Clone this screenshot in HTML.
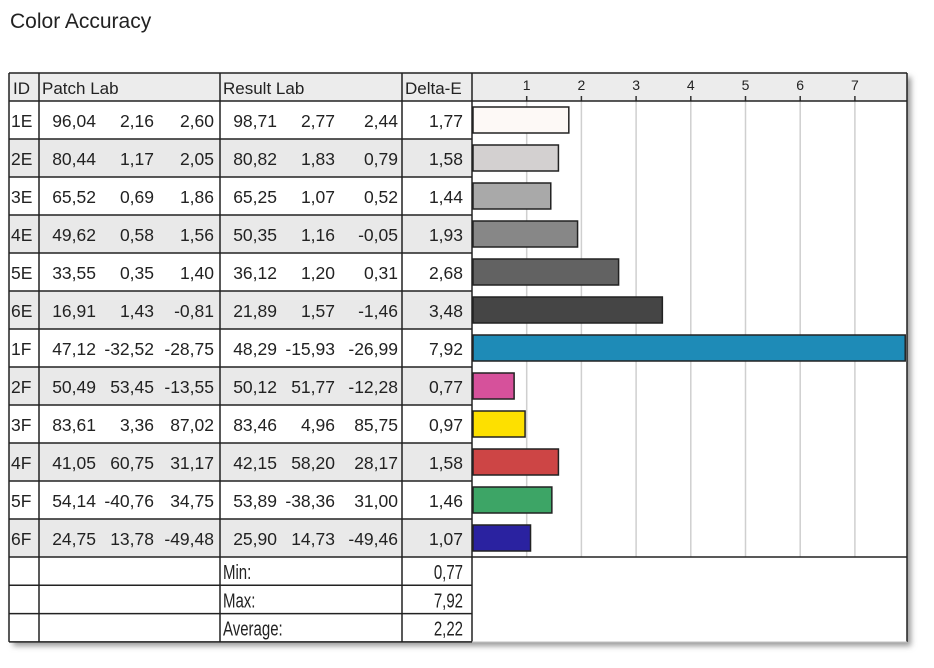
<!DOCTYPE html>
<html><head><meta charset="utf-8"><style>
body{margin:0;background:#fff;}
svg{display:block;font-family:"Liberation Sans",Arial,sans-serif;}
</style></head><body>
<svg id="c" width="934" height="668">
<defs><filter id="sh" x="-5%" y="-5%" width="115%" height="115%"><feGaussianBlur stdDeviation="3"/></filter></defs>
<text x="10" y="28" font-size="21" fill="#222">Color Accuracy</text>
<rect x="13" y="77" width="898" height="569" fill="#999" filter="url(#sh)"/>
<rect x="9" y="73" width="898" height="569" fill="#fff"/>
<g id="g"></g>
</svg>
<script>
const ids=["1E","2E","3E","4E","5E","6E","1F","2F","3F","4F","5F","6F"];
const patchLab=[["96,04","2,16","2,60"],["80,44","1,17","2,05"],["65,52","0,69","1,86"],["49,62","0,58","1,56"],["33,55","0,35","1,40"],["16,91","1,43","-0,81"],["47,12","-32,52","-28,75"],["50,49","53,45","-13,55"],["83,61","3,36","87,02"],["41,05","60,75","31,17"],["54,14","-40,76","34,75"],["24,75","13,78","-49,48"]];
const resultLab=[["98,71","2,77","2,44"],["80,82","1,83","0,79"],["65,25","1,07","0,52"],["50,35","1,16","-0,05"],["36,12","1,20","0,31"],["21,89","1,57","-1,46"],["48,29","-15,93","-26,99"],["50,12","51,77","-12,28"],["83,46","4,96","85,75"],["42,15","58,20","28,17"],["53,89","-38,36","31,00"],["25,90","14,73","-49,46"]];
const deltaE=[1.77,1.58,1.44,1.93,2.68,3.48,7.92,0.77,0.97,1.58,1.46,1.07];
const barColors=["#fdf9f6","#d3d0d0","#a9a9a9","#878787","#626262","#454545","#1e8bb7","#d6519b","#fde000","#cd4545","#3da566","#2a22a0"];
const ticks=[1,2,3,4,5,6,7];
const summaryLabels=["Min:","Max:","Average:"];
const summaryValues=["0,77","7,92","2,22"];

const NS="http://www.w3.org/2000/svg", g=document.getElementById('g');
function mk(t,a,txt){const e=document.createElementNS(NS,t);for(const k in a)e.setAttribute(k,a[k]);if(txt!=null)e.textContent=txt;g.appendChild(e);return e;}
const X0=472, XR=907, UNIT=54.7, x=v=>X0+v*UNIT;
const TOP=73, HH=28, RH=38, DT=TOP+HH, DB=DT+RH*12, SH=28.3;
const fmt=v=>v.toFixed(2).replace('.',',');

let e=mk('rect',{x:9,y:TOP,width:898,height:HH,fill:'#ececec'});

ids.forEach((id,i)=>{if(i%2==1){const r=mk('rect',{x:9,y:DT+i*RH,width:463,height:RH,fill:'#e9e9e9'});
}});
ticks.forEach(t=>{const l=mk('line',{x1:x(t),x2:x(t),y1:DT,y2:DB,stroke:'#cfcfcf','stroke-width':1.5});

const tk=mk('line',{x1:x(t),x2:x(t),y1:DT-5,y2:DT,stroke:'#333','stroke-width':1.5});

const tl=mk('text',{x:x(t),y:TOP+17,'font-size':14,'text-anchor':'middle',fill:'#222'},String(t));
});
[["ID",13],["Patch Lab",42],["Result Lab",223],["Delta-E",405]].forEach(([t,xx])=>{
const h=mk('text',{x:xx,y:TOP+21,'font-size':17,fill:'#222'},t);
});
const pEnds=[96,154,214], rEnds=[277,335,398];
ids.forEach((id,i)=>{const yb=DT+i*RH+26;
let t=mk('text',{x:11,y:yb,'font-size':17.5,fill:'#222'},id);

patchLab[i].forEach((v,j)=>{const a=mk('text',{x:pEnds[j],y:yb,'font-size':17.5,'text-anchor':'end',fill:'#222'},v);
});
resultLab[i].forEach((v,j)=>{const a=mk('text',{x:rEnds[j],y:yb,'font-size':17.5,'text-anchor':'end',fill:'#222'},v);
});
const d=mk('text',{x:463,y:yb,'font-size':17.5,'text-anchor':'end',fill:'#222'},fmt(deltaE[i]));

const b=mk('rect',{x:X0+1,y:DT+i*RH+6,width:x(deltaE[i])-X0-1,height:26,fill:barColors[i],stroke:'#222','stroke-width':1.5});
});
summaryLabels.forEach((s,i)=>{const yb=DB+i*SH+22;
const a=mk('text',{x:223,y:yb,'font-size':20,fill:'#222',transform:`translate(223 0) scale(0.75 1) translate(-223 0)`},s);

const b=mk('text',{x:463,y:yb,'font-size':20,'text-anchor':'end',fill:'#222',transform:`translate(463 0) scale(0.75 1) translate(-463 0)`},summaryValues[i]);
});
const L=(x1,y1,x2,y2,w)=>{const l=mk('line',{x1,y1,x2,y2,stroke:'#222','stroke-width':w||1.5});
};
L(9,TOP,907,TOP);L(9,DT,907,DT);L(9,DB,907,DB);
for(let i=1;i<12;i++)L(9,DT+i*RH,472,DT+i*RH);
for(let i=1;i<3;i++)L(9,DB+i*SH,472,DB+i*SH);
const BOT=DB+3*SH; L(9,BOT,472,BOT);
[9,39,220,402,472].forEach(cx=>L(cx,TOP,cx,BOT));
L(907,TOP,907,BOT);
const fr=mk('line',{x1:472,y1:BOT,x2:907,y2:BOT,stroke:'#ccc','stroke-width':1});

</script>
</body></html>
